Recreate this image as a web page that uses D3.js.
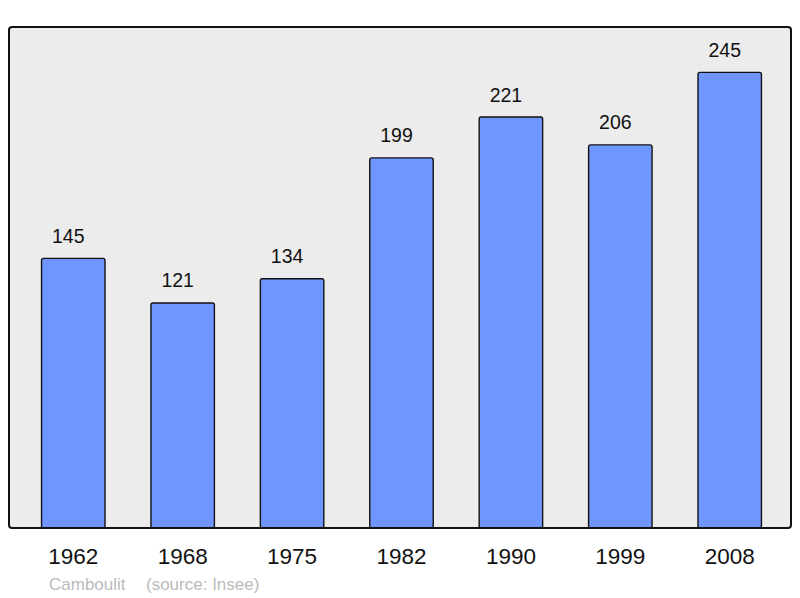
<!DOCTYPE html>
<html>
<head>
<meta charset="utf-8">
<script src="https://cdn.jsdelivr.net/npm/d3@7"></script>
<style>
  body { margin: 0; background: #fff; }
  text { font-family: "Liberation Sans", Arial, sans-serif; }
</style>
</head>
<body>
<svg id="chart" width="800" height="598"></svg>
<script>
// population data (Insee)
var years = ["1962", "1968", "1975", "1982", "1990", "1999", "2008"];
var population = [145, 121, 134, 199, 221, 206, 245];
var credit = ["Camboulit", "(source: Insee)"];

var svg = d3.select("#chart");
var frame = { left: 9, top: 27, right: 791, bottom: 528 };

// background frame
svg.append("rect")
   .attr("x", frame.left).attr("y", frame.top)
   .attr("width", frame.right - frame.left)
   .attr("height", frame.bottom - frame.top)
   .attr("rx", 3).attr("ry", 3)
   .attr("fill", "#ececec");

var x = d3.scaleBand()
          .domain(years)
          .range([12, 791])
          .paddingInner(0.42)
          .paddingOuter(0.27);

var y = d3.scaleLinear()
          .domain([0, 269.4])
          .range([frame.bottom, frame.top]);

var data = years.map(function(d, i){ return { year: d, value: population[i] }; });

svg.selectAll(".bar")
   .data(data)
   .enter().append("rect")
   .attr("class", "bar")
   .attr("x", function(d){ return x(d.year); })
   .attr("y", function(d){ return y(d.value); })
   .attr("width", x.bandwidth())
   .attr("height", function(d){ return y(0) - y(d.value); })
   .attr("rx", 2).attr("ry", 2)
   .attr("fill", "#6f96ff")
   .attr("stroke", "#111")
   .attr("stroke-width", 1.4);

// value labels (sit a little left of bar centre)
svg.selectAll(".val")
   .data(data)
   .enter().append("text")
   .attr("class", "val")
   .attr("x", function(d){ return x(d.year) + x.bandwidth() / 2 - 5; })
   .attr("y", function(d){ return y(d.value) - 15.5; })
   .attr("text-anchor", "middle")
   .attr("font-size", 19.5)
   .attr("fill", "#111")
   .text(function(d){ return d.value; });

// frame border on top
svg.append("rect")
   .attr("x", frame.left).attr("y", frame.top)
   .attr("width", frame.right - frame.left)
   .attr("height", frame.bottom - frame.top)
   .attr("rx", 3).attr("ry", 3)
   .attr("fill", "none")
   .attr("stroke", "#111")
   .attr("stroke-width", 2);

// x axis labels
var xAxis = d3.axisBottom(x).tickSize(0).tickPadding(0);
var gx = svg.append("g")
   .attr("transform", "translate(0," + frame.bottom + ")")
   .call(xAxis);
gx.select(".domain").remove();
gx.selectAll("text")
  .attr("font-family", "Liberation Sans, Arial, sans-serif")
  .attr("font-size", 22.5)
  .attr("fill", "#111")
  .attr("dy", 0)
  .attr("y", 36);

// credit line
svg.append("text")
   .attr("x", 49).attr("y", 590)
   .attr("font-size", 17)
   .attr("fill", "#bbb")
   .text(credit[0]);
svg.append("text")
   .attr("x", 146).attr("y", 590)
   .attr("font-size", 17)
   .attr("fill", "#bbb")
   .text(credit[1]);
</script>
</body>
</html>
